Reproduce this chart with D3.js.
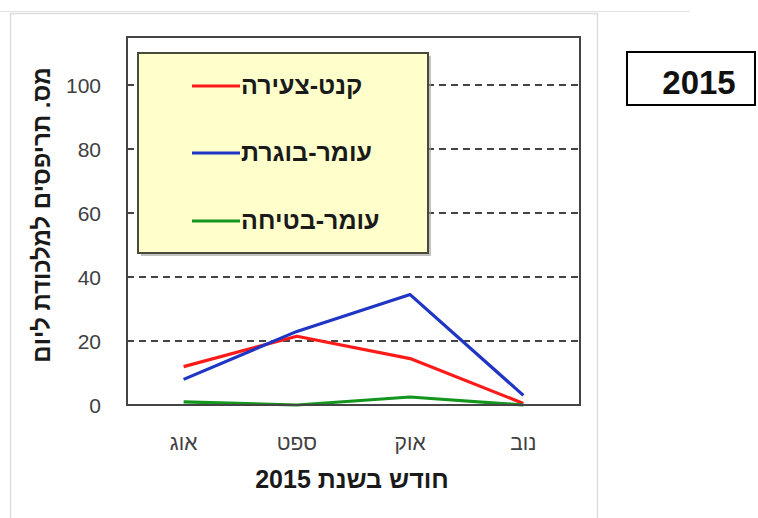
<!DOCTYPE html>
<html lang="he">
<head>
  <meta charset="UTF-8" />
  <title>תריפסים 2015</title>
  <script src="https://d3js.org/d3.v7.min.js"></script>
  <style>
    body {
      margin: 0;
      background: #fff;
      font-family: "Liberation Sans", Arial, sans-serif;
    }
    svg { display: block; }
    .tick-label { font-size: 21px; fill: #404040; }
    .axis-title { font-size: 25px; font-weight: bold; fill: #1a1a1a; }
    .legend-label { font-size: 25px; font-weight: bold; fill: #1a1a1a; }
  </style>
</head>
<body>
  <svg width="758" height="518"></svg>

  <script>
    // data
    const months = ["אוג", "ספט", "אוק", "נוב"];
    const seriesNames = ["קנט-צעירה", "עומר-בוגרת", "עומר-בטיחה"];
    const seriesColors = ["#ff1a1a", "#1f35c4", "#14961e"];
    const kentYoung = [12, 21.5, 14.5, 0.5];
    const omerAdult = [8, 23, 34.5, 3];
    const omerSafety = [1, 0, 2.5, 0];
    const yTicks = [0, 20, 40, 60, 80, 100];

    const seriesValues = [kentYoung, omerAdult, omerSafety];

    const width = 758;
    const height = 518;
    const plot = { left: 127, right: 580, top: 37, bottom: 405 };

    const svg = d3.select("svg");

    // outer chart container, faint borders
    svg.append("line")
      .attr("x1", 0).attr("x2", 690).attr("y1", 11.5).attr("y2", 11.5)
      .attr("stroke", "#e3e3e3").attr("stroke-width", 1);
    svg.append("path")
      .attr("d", `M10.5,${height} V13.5 H597.5 V${height}`)
      .attr("fill", "none").attr("stroke", "#dcdcdc").attr("stroke-width", 1.5);

    const x = d3.scalePoint()
      .domain(months)
      .range([plot.left, plot.right])
      .padding(0.5);

    const y = d3.scaleLinear()
      .domain([0, 115])
      .range([plot.bottom, plot.top]);

    // dashed grid lines
    svg.append("g")
      .selectAll("line")
      .data(yTicks.filter(d => d > 0))
      .enter()
      .append("line")
      .attr("x1", plot.left).attr("x2", plot.right)
      .attr("y1", d => y(d)).attr("y2", d => y(d))
      .attr("stroke", "#444")
      .attr("stroke-width", 2)
      .attr("stroke-dasharray", "7,5");

    // inner ticks on the left edge
    svg.append("g")
      .selectAll("line")
      .data(yTicks)
      .enter()
      .append("line")
      .attr("x1", plot.left).attr("x2", plot.left + 6)
      .attr("y1", d => y(d)).attr("y2", d => y(d))
      .attr("stroke", "#444").attr("stroke-width", 2);

    // y tick labels
    svg.append("g")
      .selectAll("text")
      .data(yTicks)
      .enter()
      .append("text")
      .attr("class", "tick-label")
      .attr("x", 101)
      .attr("y", d => y(d))
      .attr("dy", "0.36em")
      .attr("text-anchor", "end")
      .text(d => d);

    // x tick labels
    svg.append("g")
      .selectAll("text")
      .data(months)
      .enter()
      .append("text")
      .attr("class", "tick-label")
      .attr("x", d => x(d))
      .attr("y", 450)
      .attr("text-anchor", "middle")
      .text(d => d);

    // series lines
    const line = d3.line()
      .x((d, i) => x(months[i]))
      .y(d => y(d));

    svg.append("g")
      .selectAll("path")
      .data(seriesValues)
      .enter()
      .append("path")
      .attr("d", line)
      .attr("fill", "none")
      .attr("stroke", (d, i) => seriesColors[i])
      .attr("stroke-width", 3.2)
      .attr("stroke-linejoin", "round");

    // plot frame
    svg.append("rect")
      .attr("x", plot.left).attr("y", plot.top)
      .attr("width", plot.right - plot.left)
      .attr("height", plot.bottom - plot.top)
      .attr("fill", "none")
      .attr("stroke", "#444")
      .attr("stroke-width", 2);

    // legend box with shadow
    const lg = { x: 138, y: 53, w: 290, h: 200 };
    svg.append("rect")
      .attr("x", lg.x + 3).attr("y", lg.y + 3)
      .attr("width", lg.w).attr("height", lg.h)
      .attr("fill", "#9a9a9a").attr("opacity", 0.6);
    svg.append("rect")
      .attr("x", lg.x).attr("y", lg.y)
      .attr("width", lg.w).attr("height", lg.h)
      .attr("fill", "#ffffcc")
      .attr("stroke", "#4a4a3a")
      .attr("stroke-width", 2);

    const legendY = [86, 153, 221];
    const items = svg.append("g")
      .selectAll("g")
      .data(seriesNames)
      .enter()
      .append("g")
      .attr("transform", (d, i) => `translate(0,${legendY[i]})`);

    items.append("line")
      .attr("x1", 192).attr("x2", 240)
      .attr("stroke", (d, i) => seriesColors[i])
      .attr("stroke-width", 3.2);

    items.append("text")
      .attr("class", "legend-label")
      .attr("x", 241)
      .attr("dy", "0.32em")
      .attr("text-anchor", "start")
      .text(d => d);

    // axis titles
    svg.append("text")
      .attr("class", "axis-title")
      .attr("x", 352)
      .attr("y", 488)
      .attr("text-anchor", "middle")
      .attr("direction", "rtl")
      .style("unicode-bidi", "embed")
      .text("חודש בשנת 2015");

    svg.append("text")
      .attr("class", "axis-title")
      .attr("transform", "translate(50,215) rotate(-90)")
      .attr("text-anchor", "middle")
      .attr("direction", "rtl")
      .style("unicode-bidi", "embed")
      .style("font-size", "24px")
      .text("מס. תריפסים למלכודת ליום");

    // year box
    svg.append("rect")
      .attr("x", 627).attr("y", 52)
      .attr("width", 128).attr("height", 53)
      .attr("fill", "#fff")
      .attr("stroke", "#000")
      .attr("stroke-width", 2);
    svg.append("text")
      .attr("x", 699)
      .attr("y", 94)
      .attr("text-anchor", "middle")
      .style("font-size", "33px")
      .style("font-weight", "bold")
      .attr("fill", "#111")
      .text("2015");
  </script>
</body>
</html>
